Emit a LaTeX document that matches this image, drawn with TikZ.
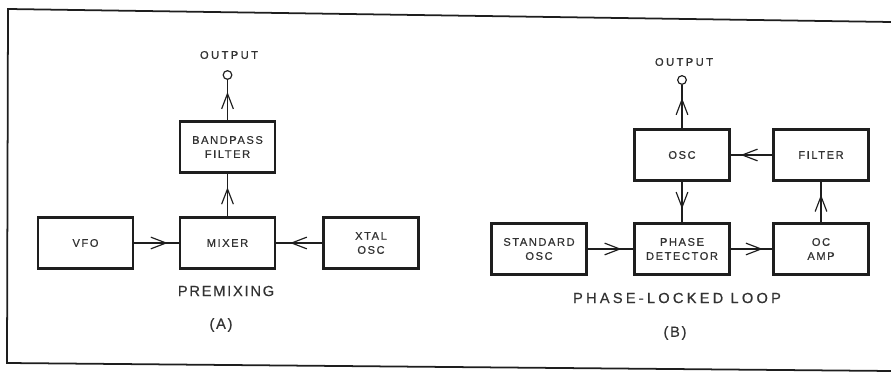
\documentclass[tikz,border=0pt]{standalone}
\usepackage{fontspec}
\setmainfont{Liberation Sans}
\newfontfamily\boxfont[LetterSpace=14,FakeBold=0.6]{Liberation Sans}
\newfontfamily\outfont[LetterSpace=22,FakeBold=0.6]{Liberation Sans}
\newfontfamily\capfont[LetterSpace=12,FakeBold=0.4]{Liberation Sans}
\usetikzlibrary{arrows.meta,decorations.markings}
\definecolor{inkcolor}{RGB}{30,30,30}
\definecolor{lettercolor}{RGB}{50,50,50}

\begin{document}
\begin{tikzpicture}[x=0.03cm, y=-0.03cm,
    every node/.style={text=lettercolor},
    blockbox/.style={draw=inkcolor, line width=2pt, minimum width=2.85cm, minimum height=1.53cm,
      align=center, inner sep=0pt, font=\boxfont\fontsize{9.5}{12}\selectfont},
    terminal/.style={circle, draw=inkcolor, line width=1pt, minimum size=0.26cm, inner sep=0pt},
    outlabel/.style={font=\outfont\fontsize{9.5}{11}\selectfont},
    caplabel/.style={font=\capfont\fontsize{12.5}{14}\selectfont},
    flow/.style={draw=inkcolor, line width=1pt, postaction={decorate},
      decoration={markings, mark=at position #1 with {\arrow{Straight Barb[length=13pt,width=10pt]}}}},
    flow/.default=0.7]
  \useasboundingbox (0,0) rectangle (891,376);
  % frame of the figure (scanned, slightly tilted)
  \draw[inkcolor, line width=1.5pt] (891,22) -- (8,9) -- (7,363) -- (891,371);

  % (A) premixing
  \foreach \nm/\x/\y/\txt in {vfo/85.5/243/{VFO}, mixer/227.5/243/{MIXER},
      xtal/371/243/{XTAL\\OSC}, bpf/227.5/147/{BANDPASS\\FILTER}} {
    \node[blockbox] (\nm) at (\x,\y) {\txt};
  }
  \node[terminal] (outa) at (227.5,75) {};
  \node[outlabel] (outalab) at (229,55) {OUTPUT};
  \draw[flow=0.75] (vfo) -- (mixer);
  \draw[flow=0.7] (xtal) -- (mixer);
  \draw[flow=0.68] (mixer) -- (bpf);
  \draw[flow=0.7] (bpf) -- (outa);
  \node[caplabel] (capa) at (226,291) {PREMIXING};
  \node[caplabel] (taga) at (221,325) {(A)};

  % (B) phase-locked loop
  \foreach \nm/\x/\y/\txt in {std/539/249/{STANDARD\\OSC}, pd/682/249/{PHASE\\DETECTOR},
      ocamp/821/249/{OC\\AMP}, osc/682/155/{OSC}, filt/821/155/{FILTER}} {
    \node[blockbox] (\nm) at (\x,\y) {\txt};
  }
  \node[terminal] (outb) at (682,80) {};
  \node[outlabel] (outblab) at (684,62) {OUTPUT};
  \draw[flow=0.74] (std) -- (pd);
  \draw[flow=0.77] (pd) -- (ocamp);
  \draw[flow=0.68] (ocamp) -- (filt);
  \draw[flow=0.76] (filt) -- (osc);
  \draw[flow=0.67] (osc) -- (pd);
  \draw[flow=0.7] (osc) -- (outb);
  \node[caplabel, font=\outfont\fontsize{12.5}{14}\selectfont] (capb) at (677,298) {PHASE-LOCKED LOOP};
  \node[caplabel] (tagb) at (675,333) {(B)};
\end{tikzpicture}
\end{document}
